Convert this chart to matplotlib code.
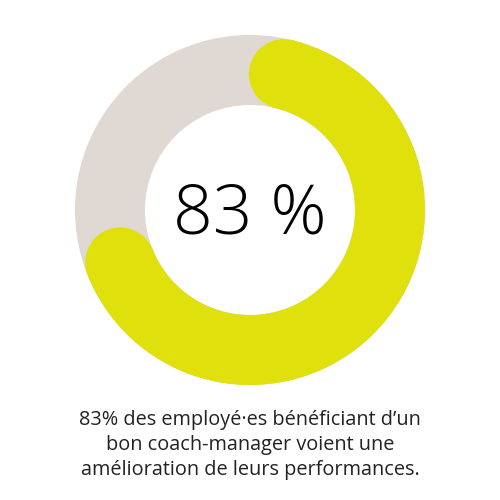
import numpy as np
import matplotlib
matplotlib.use('Agg')
from matplotlib import pyplot as plt
from matplotlib.patches import Wedge, Circle

# data
share_pct = 83
label_text = '83 %'
caption = ("83% des employé·es bénéficiant d\u2019un\n"
		"bon coach-manager voient une\n"
		"amélioration de leurs performances.")
# arc of the yellow band, degrees clockwise from 12 o'clock
arc_start_deg = 14
arc_end_deg = 248

grey = '#e0d8d3'
yellow = '#e0e00d'

# geometry in pixels (figure is 500x500)
cx, cy = 250, 290
r_out = 175
ring = 70
r_mid = r_out - ring / 2

fig = plt.figure(figsize=(5, 5), dpi=100)
ax = fig.add_axes([0, 0, 1, 1])
ax.set_xlim(0, 500)
ax.set_ylim(0, 500)
ax.set_aspect('equal')
ax.axis('off')

ax.add_patch(Wedge((cx, cy), r_out, 0, 360, width=ring,
				facecolor=grey, edgecolor='none'))

# convert clockwise-from-top to matplotlib angles
theta1 = 90 - arc_end_deg
theta2 = 90 - arc_start_deg
ax.add_patch(Wedge((cx, cy), r_out, theta1, theta2, width=ring,
				facecolor=yellow, edgecolor='none'))
for ang in (theta1, theta2):
	a = np.deg2rad(ang)
	ax.add_patch(Circle((cx + r_mid * np.cos(a), cy + r_mid * np.sin(a)),
					ring / 2, facecolor=yellow, edgecolor='none'))

ax.text(cx, cy - 5, label_text, ha='center', va='center',
		fontsize=50, family='Open Sans', fontweight='light', color='black')

ax.text(250, 55, caption, ha='center', va='center', fontsize=14.3,
		family='Open Sans', color='#222222', linespacing=1.36)

fig.savefig('out.png', dpi=100)
